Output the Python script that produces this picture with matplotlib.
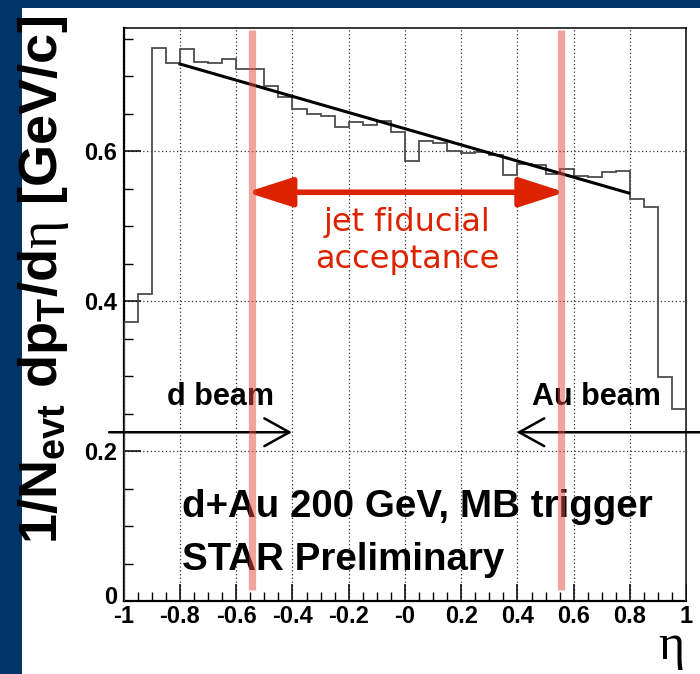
import numpy as np
import matplotlib
matplotlib.use("Agg")
import matplotlib.pyplot as plt
import matplotlib.transforms as mtransforms
from matplotlib.patches import Rectangle, FancyArrowPatch

plt.rcParams['font.family'] = ['Liberation Sans', 'DejaVu Sans']
plt.rcParams['mathtext.fontset'] = 'custom'
plt.rcParams['mathtext.rm'] = 'Liberation Sans:bold'
plt.rcParams['mathtext.it'] = 'Liberation Sans:bold'
plt.rcParams['mathtext.bf'] = 'Liberation Sans:bold'
plt.rcParams['mathtext.sf'] = 'Liberation Serif'

# histogram: 40 bins of eta from -1 to 1
eta_edges = np.linspace(-1, 1, 41)
dpt_deta = [0.372, 0.409, 0.738, 0.717, 0.736, 0.719, 0.717, 0.723, 0.709, 0.709,
            0.687, 0.672, 0.656, 0.650, 0.647, 0.632, 0.639, 0.635, 0.640, 0.626,
            0.587, 0.614, 0.611, 0.600, 0.597, 0.599, 0.595, 0.568, 0.583, 0.582,
            0.569, 0.576, 0.567, 0.565, 0.572, 0.573, 0.536, 0.525, 0.299, 0.256]

# linear fit over -0.8 .. 0.8
fit_eta = [-0.8, 0.795]
fit_val = [0.716, 0.544]

# jet fiducial acceptance limits
fid_eta = [-0.545, 0.555]

xticks = [-1, -0.8, -0.6, -0.4, -0.2, 0, 0.2, 0.4, 0.6, 0.8, 1]
xticklabels = ['-1', '-0.8', '-0.6', '-0.4', '-0.2', '-0', '0.2', '0.4', '0.6', '0.8', '1']
yticks = [0, 0.2, 0.4, 0.6]
yticklabels = ['0', '0.2', '0.4', '0.6']

red = '#dd2200'

fig = plt.figure(figsize=(7, 6.74), dpi=100)
fig.patch.set_facecolor('#003366')
fig.add_artist(Rectangle((22/700, 0), 1, 666/674, transform=fig.transFigure,
                         facecolor='white', edgecolor='none', zorder=0))

ax = fig.add_axes([123.75/700, 73/674, 562.5/700, 573.3/674])
ax.set_xlim(-1, 1)
ax.set_ylim(0, 0.7644)

ax.stairs(dpt_deta, eta_edges, baseline=0, color='#4d4d4d', lw=1.3, zorder=3)
ax.plot(fit_eta, fit_val, color='black', lw=2.2, zorder=4)

# grid and ticks
ax.set_xticks(xticks)
ax.set_xticklabels(xticklabels, fontsize=17, fontweight='bold')
ax.set_yticks(yticks)
ax.set_yticklabels(yticklabels, fontsize=17, fontweight='bold')
ax.set_xticks(np.arange(-1, 1.001, 0.05), minor=True)
ax.set_yticks(np.arange(0, 0.76, 0.05), minor=True)
ax.tick_params(which='major', direction='in', length=12, width=1.1, pad=3)
ax.tick_params(which='minor', direction='in', length=6.5, width=1.0)
ax.tick_params(axis='y', pad=5)
ax.grid(True, which='major', color='#333333', lw=0.9, linestyle=(0, (1, 2)))
for s in ['left', 'bottom']:
    ax.spines[s].set_linewidth(1.6)
for s in ['top', 'right']:
    ax.spines[s].set_linewidth(1.1)

# ROOT puts the "0" label a little above the x labels
zero_lab = ax.get_yticklabels()[0]
zero_lab.set_transform(zero_lab.get_transform() +
                       mtransforms.ScaledTranslation(0, 4/72, fig.dpi_scale_trans))

# fiducial bands
for e in fid_eta:
    ax.plot([e, e], [0.015, 0.762], color='#e34b3a', alpha=0.5, lw=5.2,
            solid_capstyle='butt', zorder=10)

# acceptance arrow
ax.add_patch(FancyArrowPatch((-0.563, 0.545), (0.569, 0.545),
                             arrowstyle='<|-|>,head_length=28,head_width=9',
                             mutation_scale=1, lw=4, color=red,
                             shrinkA=0, shrinkB=0, zorder=6))
ax.text(0.007, 0.493, 'jet fiducial', color=red, fontsize=23,
        family='DejaVu Sans', ha='center', va='baseline')
ax.text(0.007, 0.444, 'acceptance', color=red, fontsize=23,
        family='DejaVu Sans', ha='center', va='baseline')

# beam arrows
beam_arrow = dict(arrowstyle='->,head_length=0.9,head_width=0.5', lw=1.8,
                  color='black', shrinkA=0, shrinkB=0, mutation_scale=20)
ax.annotate('', xy=(-0.402, 0.225), xytext=(-1.052, 0.225),
            arrowprops=beam_arrow, annotation_clip=False)
ax.annotate('', xy=(0.397, 0.225), xytext=(1.06, 0.225),
            arrowprops=beam_arrow, annotation_clip=False)
ax.text(-0.847, 0.261, 'd beam', fontsize=22, fontweight='bold', va='baseline')
ax.text(0.450, 0.261, 'Au beam', fontsize=22, fontweight='bold', va='baseline')

ax.text(-0.794, 0.1124, 'd+Au 200 GeV, MB trigger', fontsize=27.7,
        fontweight='bold', va='baseline')
ax.text(-0.794, 0.0413, 'STAR Preliminary', fontsize=27.7,
        fontweight='bold', va='baseline')

# axis titles
fig.text(44/700, 1 - 280/674, r'$1/N_{evt}\ dp_{T}/d\mathsf{\eta}\ [GeV/c]$',
         rotation=90, ha='center', va='center', fontsize=39)
fig.text(671/700, 1 - 647/674, 'η', family='Liberation Serif', fontsize=36,
         ha='center', va='center')

fig.savefig('out.png', dpi=100, facecolor=fig.get_facecolor())
